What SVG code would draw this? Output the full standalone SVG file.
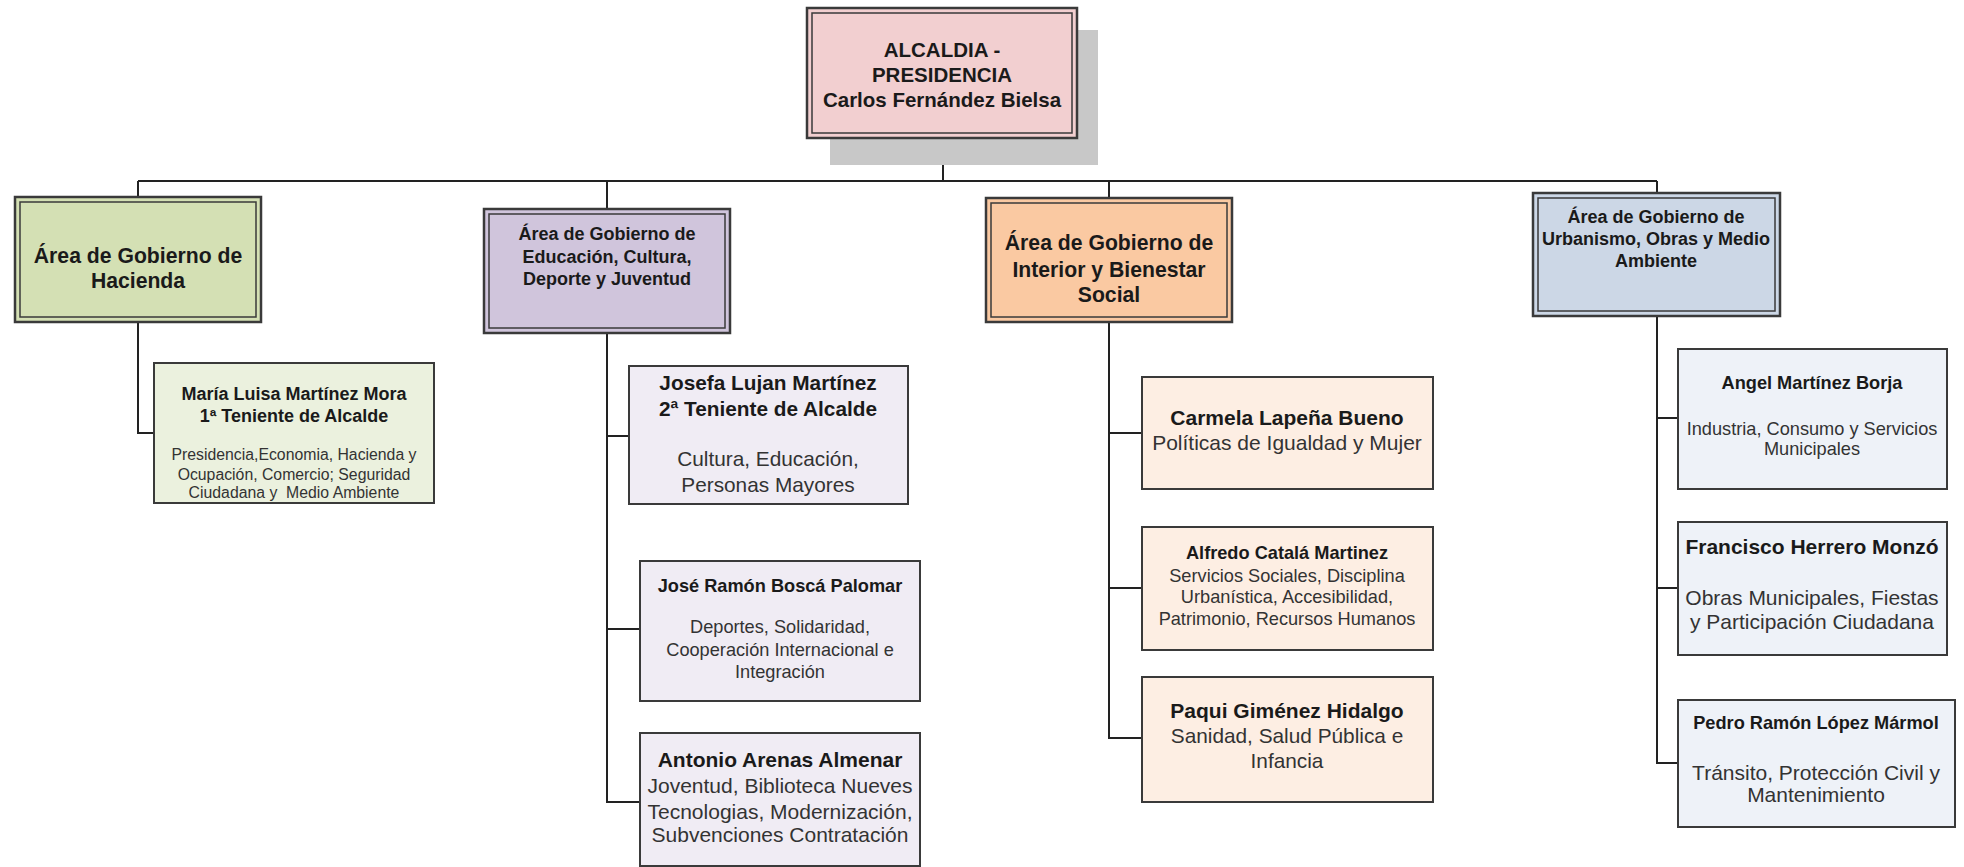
<svg xmlns="http://www.w3.org/2000/svg" width="1964" height="867" viewBox="0 0 1964 867">
<style>
text{font-family:"Liberation Sans",Arial,sans-serif;text-anchor:middle;fill:#1a1a1a}
.b{font-weight:bold}
.r{fill:#333}
.outer{stroke:#3a3a3a;stroke-width:2.5}
.inner{fill:none;stroke:#3a3a3a;stroke-width:1.5}
.sub{stroke:#3a3a3a;stroke-width:2}
.conn{fill:none;stroke:#222;stroke-width:2}
</style>
<rect width="1964" height="867" fill="#fff"/>
<g id="connectors" class="conn">
<path d="M943 138V181M138 181H1657M138 181V197M607 181V209M1109 181V198M1657 181V193"/>
<path d="M138 322V433H154"/>
<path d="M607 333V802H640M607 436H629M607 629H640"/>
<path d="M1109 322V738H1142M1109 433H1142M1109 588H1142"/>
<path d="M1657 316V763H1678M1657 418H1678M1657 588H1678"/>
</g>
<g id="alcaldia">
<rect x="830" y="30" width="268" height="135" fill="#c8c8c8"/>
<rect x="807" y="8" width="270" height="130" fill="#f2cfd0" class="outer"/>
<rect x="812" y="13" width="260" height="120" class="inner"/>
<text class="b" font-size="20.5" x="942" y="57">ALCALDIA -</text>
<text class="b" font-size="20.5" x="942" y="82">PRESIDENCIA</text>
<text class="b" font-size="20.5" x="942" y="107">Carlos Fernández Bielsa</text>
</g>
<g id="hacienda">
<rect x="15" y="197" width="246" height="125" fill="#d4e0b4" class="outer"/>
<rect x="20" y="202" width="236" height="115" class="inner"/>
<text class="b" font-size="21.2" x="138" y="263">Área de Gobierno de</text>
<text class="b" font-size="21.2" x="138" y="288">Hacienda</text>
</g>
<g id="maria-luisa">
<rect x="154" y="363" width="280" height="140" fill="#ebf1de" class="sub"/>
<text class="b" font-size="18" x="294" y="400">María Luisa Martínez Mora</text>
<text class="b" font-size="18" x="294" y="422">1ª Teniente de Alcalde</text>
<text class="r" font-size="15.8" x="294" y="460">Presidencia,Economia, Hacienda y</text>
<text class="r" font-size="15.8" x="294" y="480">Ocupación, Comercio; Seguridad</text>
<text class="r" font-size="15.8" x="294" y="498" xml:space="preserve">Ciudadana y  Medio Ambiente</text>
</g>
<g id="educacion">
<rect x="484" y="209" width="246" height="124" fill="#d0c5dc" class="outer"/>
<rect x="489" y="214" width="236" height="114" class="inner"/>
<text class="b" font-size="18" x="607" y="240">Área de Gobierno de</text>
<text class="b" font-size="18" x="607" y="263">Educación, Cultura,</text>
<text class="b" font-size="18" x="607" y="285">Deporte y Juventud</text>
</g>
<g id="josefa">
<rect x="629" y="366" width="279" height="138" fill="#f0ecf4" class="sub"/>
<text class="b" font-size="20.8" x="768" y="390">Josefa Lujan Martínez</text>
<text class="b" font-size="20.8" x="768" y="416">2ª Teniente de Alcalde</text>
<text class="r" font-size="20.8" x="768" y="466">Cultura, Educación,</text>
<text class="r" font-size="20.8" x="768" y="492">Personas Mayores</text>
</g>
<g id="jose-ramon">
<rect x="640" y="561" width="280" height="140" fill="#f0ecf4" class="sub"/>
<text class="b" font-size="18.2" x="780" y="592">José Ramón Boscá Palomar</text>
<text class="r" font-size="18.2" x="780" y="633">Deportes, Solidaridad,</text>
<text class="r" font-size="18.2" x="780" y="656">Cooperación Internacional e</text>
<text class="r" font-size="18.2" x="780" y="678">Integración</text>
</g>
<g id="antonio">
<rect x="640" y="733" width="280" height="133" fill="#f0ecf4" class="sub"/>
<text class="b" font-size="21" x="780" y="767">Antonio Arenas Almenar</text>
<text class="r" font-size="21" x="780" y="793">Joventud, Biblioteca Nueves</text>
<text class="r" font-size="21" x="780" y="819">Tecnologias, Modernización,</text>
<text class="r" font-size="21" x="780" y="842">Subvenciones Contratación</text>
</g>
<g id="interior">
<rect x="986" y="198" width="246" height="124" fill="#fac9a2" class="outer"/>
<rect x="991" y="203" width="236" height="114" class="inner"/>
<text class="b" font-size="21.2" x="1109" y="250">Área de Gobierno de</text>
<text class="b" font-size="21.2" x="1109" y="277">Interior y Bienestar</text>
<text class="b" font-size="21.2" x="1109" y="302">Social</text>
</g>
<g id="carmela">
<rect x="1142" y="377" width="291" height="112" fill="#fdeee3" class="sub"/>
<text class="b" font-size="21" x="1287" y="425">Carmela Lapeña Bueno</text>
<text class="r" font-size="21" x="1287" y="450">Políticas de Igualdad y Mujer</text>
</g>
<g id="alfredo">
<rect x="1142" y="527" width="291" height="123" fill="#fdeee3" class="sub"/>
<text class="b" font-size="18.2" x="1287" y="559">Alfredo Catalá Martinez</text>
<text class="r" font-size="18.2" x="1287" y="582">Servicios Sociales, Disciplina</text>
<text class="r" font-size="18.2" x="1287" y="603">Urbanística, Accesibilidad,</text>
<text class="r" font-size="18.2" x="1287" y="625">Patrimonio, Recursos Humanos</text>
</g>
<g id="paqui">
<rect x="1142" y="677" width="291" height="125" fill="#fdeee3" class="sub"/>
<text class="b" font-size="21" x="1287" y="718">Paqui Giménez Hidalgo</text>
<text class="r" font-size="20.8" x="1287" y="743">Sanidad, Salud Pública e</text>
<text class="r" font-size="20.8" x="1287" y="768">Infancia</text>
</g>
<g id="urbanismo">
<rect x="1533" y="193" width="247" height="123" fill="#ccd7e6" class="outer"/>
<rect x="1538" y="198" width="237" height="113" class="inner"/>
<text class="b" font-size="18" x="1656" y="223">Área de Gobierno de</text>
<text class="b" font-size="18" x="1656" y="245">Urbanismo, Obras y Medio</text>
<text class="b" font-size="18" x="1656" y="267">Ambiente</text>
</g>
<g id="angel">
<rect x="1678" y="349" width="269" height="140" fill="#eef2f8" class="sub"/>
<text class="b" font-size="18.2" x="1812" y="389">Angel Martínez Borja</text>
<text class="r" font-size="18.2" x="1812" y="435">Industria, Consumo y Servicios</text>
<text class="r" font-size="18.2" x="1812" y="455">Municipales</text>
</g>
<g id="francisco">
<rect x="1678" y="522" width="269" height="133" fill="#eef2f8" class="sub"/>
<text class="b" font-size="21" x="1812" y="554">Francisco Herrero Monzó</text>
<text class="r" font-size="21" x="1812" y="605">Obras Municipales, Fiestas</text>
<text class="r" font-size="21" x="1812" y="629">y Participación Ciudadana</text>
</g>
<g id="pedro">
<rect x="1678" y="700" width="277" height="127" fill="#eef2f8" class="sub"/>
<text class="b" font-size="18.2" x="1816" y="729">Pedro Ramón López Mármol</text>
<text class="r" font-size="21" x="1816" y="780">Tránsito, Protección Civil y</text>
<text class="r" font-size="21" x="1816" y="802">Mantenimiento</text>
</g>
</svg>
